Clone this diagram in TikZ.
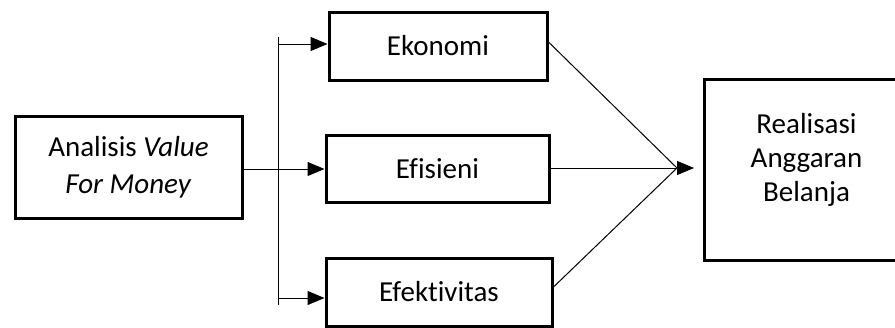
\documentclass[tikz,border=0pt]{standalone}
\usepackage{fontspec}
\setmainfont{Carlito}[Ligatures=NoCommon]
\usetikzlibrary{arrows.meta}
\begin{document}
\begin{tikzpicture}[x=1pt,y=-1pt,
  box/.style={draw=black,line width=3pt,rectangle,inner sep=0pt,align=center,
    font=\fontsize{29}{35}\selectfont},
  conn/.style={draw=black,line width=1pt},
  arr/.style={conn,-{Triangle[length=17pt,width=14pt]}}]
\useasboundingbox (0,0) rectangle (895,327);
\clip (0,0) rectangle (895,327);
\node[box,minimum width=227pt,minimum height=102pt,font=\fontsize{29}{37}\selectfont] (A) at (128.5,167) {Analisis \textit{Value}\\\textit{For Money}};
\node[box,minimum width=218pt,minimum height=68pt] (E1) at (438,46) {Ekonomi};
\node[box,minimum width=223pt,minimum height=67pt] (E2) at (437.5,168.5) {Efisieni};
\node[box,minimum width=226pt,minimum height=68pt] (E3) at (439,292) {Efektivitas};
\node[box,minimum width=240pt,minimum height=181pt,anchor=west,font=\fontsize{29}{34}\selectfont] (R) at (703,169.5)
  {\raisebox{3pt}[0pt][0pt]{\begin{tabular}{@{}c@{}}Realisasi\\Anggaran\\Belanja\end{tabular}}\hspace*{36pt}};
\coordinate (Vt) at (278,37);
\coordinate (Vb) at (278,305);
\coordinate (B1) at (278,44);
\coordinate (B3) at (278,298);
\coordinate (C) at (677,168);
\coordinate (T) at (694,168);
\draw[conn] (Vt) -- (Vb);
\draw[arr] (A.east |- 0,169) -- (E2.west |- 0,169);
\draw[arr] (B1) -- (E1.west |- B1);
\draw[arr] (B3) -- (E3.west |- B3);
\draw[conn] (E1.east |- 0,42) -- (C);
\draw[conn] (E2.east |- C) -- (C);
\draw[conn] (E3.east |- 0,287) -- (C);
\draw[arr] (C) -- (T);
\end{tikzpicture}
\end{document}
